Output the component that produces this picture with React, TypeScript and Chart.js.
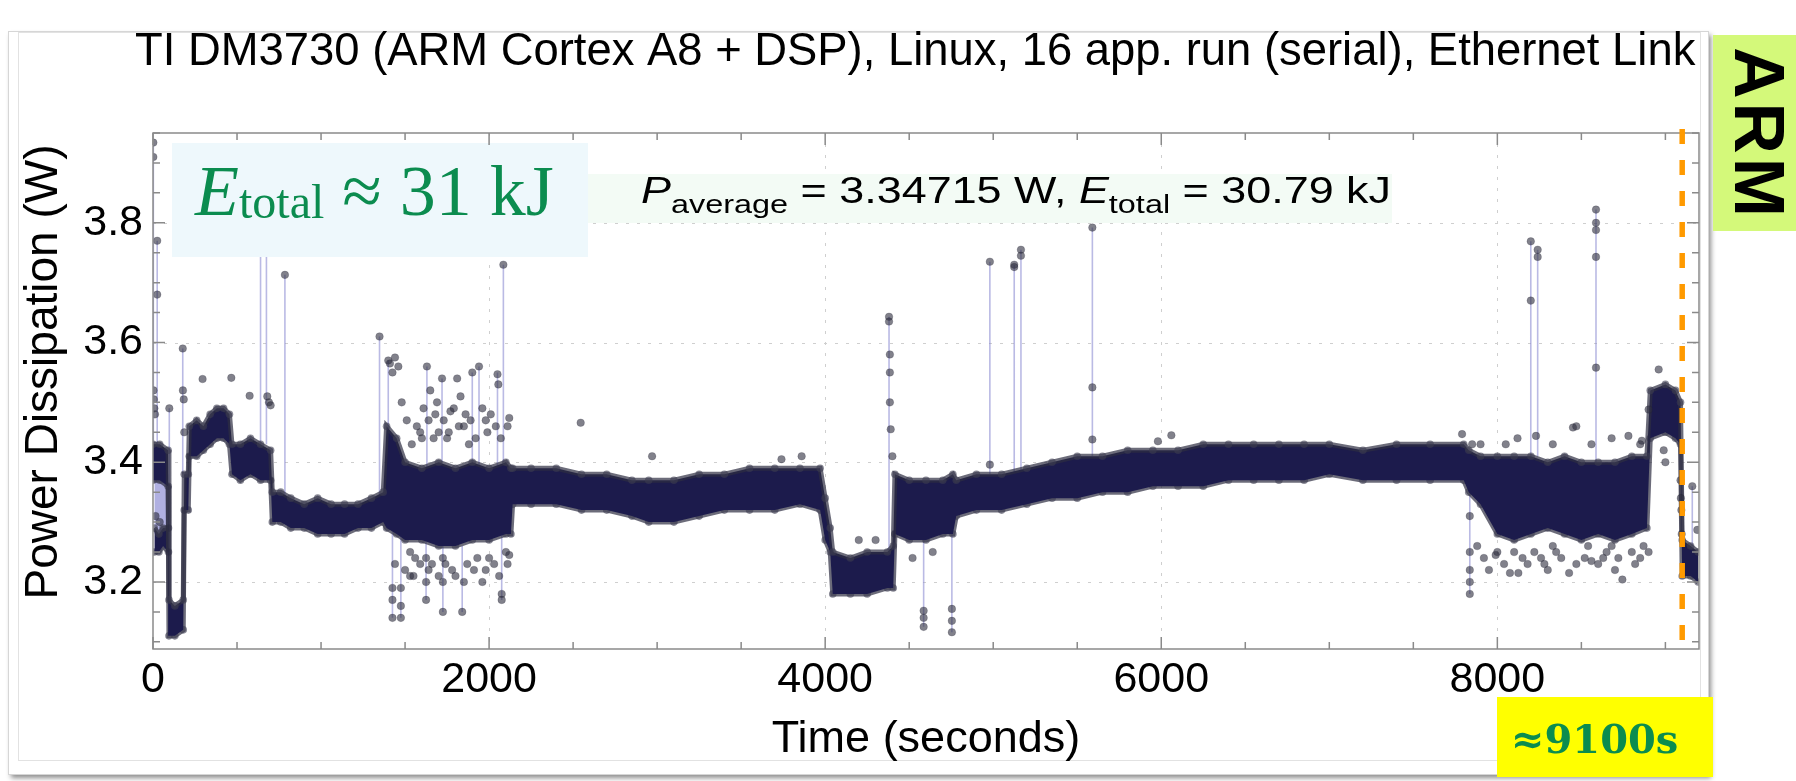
import React, { useEffect, useRef } from "react";
import { Chart, registerables } from "chart.js";

Chart.register(...registerables);

const WIDTH = 1796;
const HEIGHT = 781;

const TITLE = "TI DM3730 (ARM Cortex A8 + DSP), Linux, 16 app. run (serial), Ethernet Link";
const X_TITLE = "Time (seconds)";
const Y_TITLE = "Power Dissipation (W)";
const PLATFORM = "ARM";

const X_RANGE = [0, 9200];
const Y_RANGE = [3.088, 3.95];
const X_TICKS = [0, 2000, 4000, 6000, 8000];
const Y_TICKS = [3.2, 3.4, 3.6, 3.8];
const X_MINOR = 500;
const Y_MINOR = 0.05;
const RUN_END = 9100; // seconds

const P_AVERAGE = "3.34715";
const E_TOTAL = "30.79";
const E_ROUNDED = "31";

// Envelope of the dense power trace: time (s), lower and upper edge (W)
const BAND_T = [
  0, 40, 90, 95, 130, 180, 186, 210, 216, 260, 300, 340, 380, 420, 455, 470, 520, 580, 640, 700,
  710, 760, 820, 900, 980, 1060, 1140, 1220, 1300, 1370, 1390, 1450, 1500, 1600, 1700, 1800, 1900,
  2000, 2100, 2130, 2140, 2250, 2400, 2550, 2700, 2850, 2950, 3100, 3250, 3400, 3550, 3700, 3850,
  3970, 4000, 4030, 4045, 4150, 4250, 4370, 4405, 4415, 4500, 4600, 4700, 4760, 4780, 4900, 5050,
  5200, 5350, 5500, 5650, 5800, 5950, 6100, 6250, 6400, 6550, 6700, 6850, 7000, 7200, 7400, 7600,
  7800, 7830, 7900, 8000, 8100, 8200, 8300, 8400, 8500, 8600, 8700, 8800, 8890, 8910, 9000, 9060,
  9090, 9100, 9150, 9195,
];
const BAND_LO = [
  3.37, 3.37, 3.36, 3.11, 3.11, 3.12, 3.32, 3.32, 3.41, 3.41, 3.42, 3.43, 3.44, 3.44, 3.43, 3.38, 3.37, 3.38, 3.37, 3.37,
  3.30, 3.30, 3.29, 3.29, 3.28, 3.28, 3.28, 3.29, 3.29, 3.30, 3.29, 3.28, 3.27, 3.27, 3.26, 3.26, 3.27,
  3.27, 3.28, 3.28, 3.33, 3.33, 3.33, 3.32, 3.32, 3.31, 3.30, 3.30, 3.31, 3.32, 3.32, 3.32, 3.33,
  3.32, 3.27, 3.25, 3.18, 3.18, 3.18, 3.19, 3.19, 3.28, 3.27, 3.27, 3.28, 3.28, 3.31, 3.32, 3.32,
  3.33, 3.34, 3.34, 3.35, 3.35, 3.36, 3.36, 3.36, 3.37, 3.37, 3.37, 3.37, 3.38, 3.37, 3.37, 3.37,
  3.37, 3.35, 3.33, 3.28, 3.27, 3.28, 3.29, 3.28, 3.27, 3.28, 3.27, 3.28, 3.29, 3.44, 3.45, 3.44,
  3.43, 3.21, 3.21, 3.20,
];
const BAND_HI = [
  3.43, 3.43, 3.42, 3.17, 3.16, 3.17, 3.38, 3.38, 3.46, 3.47, 3.46, 3.48, 3.49, 3.49, 3.48, 3.43, 3.43, 3.44, 3.43, 3.42,
  3.35, 3.35, 3.34, 3.33, 3.34, 3.33, 3.33, 3.33, 3.34, 3.35, 3.46, 3.44, 3.40, 3.39, 3.40, 3.39, 3.40,
  3.39, 3.40, 3.39, 3.39, 3.39, 3.39, 3.38, 3.38, 3.37, 3.37, 3.37, 3.38, 3.38, 3.39, 3.39, 3.39,
  3.39, 3.34, 3.29, 3.25, 3.24, 3.25, 3.25, 3.26, 3.38, 3.37, 3.37, 3.37, 3.38, 3.37, 3.38, 3.38,
  3.39, 3.40, 3.41, 3.41, 3.42, 3.42, 3.42, 3.43, 3.43, 3.43, 3.43, 3.43, 3.43, 3.42, 3.43, 3.43,
  3.43, 3.42, 3.41, 3.41, 3.41, 3.41, 3.40, 3.41, 3.40, 3.40, 3.40, 3.41, 3.41, 3.52, 3.53, 3.52,
  3.50, 3.27, 3.26, 3.25,
];

// Short low-power cluster right after start
const LOW_T = [8, 35, 60, 92];
const LOW_LO = [3.25, 3.25, 3.26, 3.25];
const LOW_HI = [3.29, 3.28, 3.29, 3.29];

// Rapid switching between the two start levels (joined samples)
const SWITCH_T = [8, 92];
const SWITCH_LO = [3.28, 3.28];
const SWITCH_HI = [3.38, 3.38];

// Isolated excursions: time (s), level it leaves from, level reached (W)
const SPIKE_T = [
  2, 25, 97, 177, 640, 675, 785, 1348, 1400, 1425, 1475, 1625, 1630, 1720, 1725, 1840, 1900, 1940,
  2050, 2075, 2085, 4380, 4586, 4754, 4980, 5125, 5165, 5590, 7836, 8199, 8240, 8587, 9160,
];
const SPIKE_FROM = [
  3.43, 3.42, 3.17, 3.38, 3.43, 3.43, 3.34, 3.34, 3.45, 3.29, 3.28, 3.27, 3.39, 3.40, 3.26, 3.26, 3.40, 3.39,
  3.39, 3.28, 3.40, 3.25, 3.27, 3.28, 3.38, 3.38, 3.38, 3.41, 3.37, 3.41, 3.41, 3.40, 3.26,
];
const SPIKE_TO = [
  3.934, 3.77, 3.49, 3.59, 3.87, 3.85, 3.713, 3.61, 3.57, 3.14, 3.14, 3.17, 3.56, 3.54, 3.15, 3.15, 3.55, 3.56,
  3.55, 3.17, 3.73, 3.643, 3.125, 3.116, 3.735, 3.73, 3.755, 3.792, 3.18, 3.769, 3.755, 3.822, 3.36,
];

// Individual samples standing out of the dense trace: time (s), power (W)
const DOT_T = [
  2, 2, 3, 5, 8, 12, 25, 25, 97, 15, 40, 177, 178, 183, 186, 295, 466, 575, 680, 690, 700, 785, 1348,
  1400, 1410, 1425, 1440, 1460, 1480, 1425, 1425, 1425, 1475, 1475, 1475, 1530, 1530, 1570, 1625, 1625,
  1625, 1630, 1650, 1680, 1720, 1725, 1725, 1725, 1770, 1810, 1830, 1840, 1900, 1940, 1960, 2050, 2055,
  2075, 2075, 2085, 2120, 2120, 1600, 1700, 1750, 1850, 1880, 1990, 2000, 1560, 1660, 1780, 1870, 1930,
  2030, 2100,
  1510, 1540, 1590, 1610, 1640, 1670, 1690, 1730, 1760, 1790, 1820, 1860, 1890, 1920, 1960, 1980, 2010,
  2040, 2070, 2110, 1440, 1500, 1550, 1590, 1640, 1700, 1740, 1800, 1850, 1910, 1980, 2060, 2110,
  2545, 2970, 3740, 3860, 4200, 4300, 4380, 4380, 4385, 4385, 4385, 4390, 4400, 4586, 4586,
  4586, 4754, 4754, 4754, 4640, 4520, 4980, 4980, 5125, 5125, 5165, 5165, 5590, 5590, 5590, 5980, 6060,
  7790, 7836, 7836, 7836, 7836, 7836, 7850, 7950, 7990, 8000, 8075, 8125, 8180, 8199, 8199, 8230, 8240,
  8240, 8260, 8300, 8350, 8427, 8450, 8470, 8520, 8560, 8587, 8587, 8587, 8587, 8587, 8600, 8650, 8700,
  8744, 8780, 8820, 8850, 8860, 8900,
  7880, 7920, 8040, 8100, 8150, 8220, 8280, 8330, 8380, 8470, 8540, 8630, 8680, 8720, 8800, 8870,
  7900, 8050, 8120, 8330, 8560, 8680, 8850,
  8900, 8960, 8990, 9000, 9090, 9092, 9095, 9097, 9160, 9190,
];
const DOT_V = [
  3.934, 3.91, 3.52, 3.505, 3.49, 3.48, 3.77, 3.68, 3.49, 3.31, 3.30, 3.59, 3.52, 3.505, 3.45, 3.539, 3.541, 3.511, 3.51, 3.50, 3.495, 3.713, 3.61,
  3.57, 3.565, 3.55, 3.575, 3.56, 3.50, 3.19, 3.17, 3.14, 3.19, 3.16, 3.14, 3.25, 3.21, 3.46, 3.24, 3.20,
  3.17, 3.56, 3.52, 3.48, 3.54, 3.24, 3.20, 3.15, 3.485, 3.54, 3.51, 3.15, 3.55, 3.56, 3.20, 3.547, 3.53,
  3.18, 3.17, 3.73, 3.474, 3.245, 3.44, 3.45, 3.44, 3.46, 3.43, 3.45, 3.24, 3.24, 3.23, 3.22, 3.23, 3.24,
  3.23, 3.25,
  3.47, 3.43, 3.45, 3.49, 3.47, 3.44, 3.50, 3.47, 3.45, 3.49, 3.46, 3.48, 3.47, 3.44, 3.49, 3.47, 3.48,
  3.46, 3.44, 3.46, 3.23, 3.22, 3.21, 3.23, 3.22, 3.21, 3.23, 3.21, 3.20, 3.22, 3.22, 3.21, 3.23,
  3.466, 3.41, 3.405, 3.41, 3.27, 3.27, 3.643, 3.635, 3.58, 3.55, 3.50, 3.455, 3.41, 3.152, 3.14,
  3.125, 3.155, 3.135, 3.116, 3.25, 3.24, 3.735, 3.396, 3.73, 3.726, 3.755, 3.745, 3.792, 3.525, 3.438, 3.435, 3.445,
  3.447, 3.31, 3.25, 3.22, 3.20, 3.18, 3.43, 3.22, 3.245, 3.25, 3.215, 3.215, 3.23, 3.769, 3.67, 3.444, 3.755,
  3.743, 3.24, 3.22, 3.25, 3.215, 3.458, 3.46, 3.24, 3.235, 3.822, 3.80, 3.788, 3.743, 3.558, 3.23, 3.25, 3.22,
  3.204, 3.444, 3.23, 3.24, 3.436, 3.25,
  3.26, 3.24, 3.23, 3.25, 3.24, 3.25, 3.23, 3.26, 3.24, 3.23, 3.26, 3.24, 3.26, 3.24, 3.25, 3.26,
  3.43, 3.43, 3.44, 3.43, 3.43, 3.44, 3.43,
  3.488, 3.555, 3.42, 3.40, 3.37, 3.34, 3.32, 3.28, 3.36, 3.287,
];

const NAVY = "#1c1b4c";
const EDGE_LINE = "rgba(45,45,66,0.7)";
const EDGE_DOT = "rgba(60,60,80,0.6)";
const JOIN = "rgba(140,140,210,0.6)";
const GREEN = "#0b8c4f";
const SANS = '"Liberation Sans", Arial, Helvetica, sans-serif';
const SERIF = '"Liberation Serif", "Times New Roman", serif';

const pts = (xs: number[], ys: number[]) => xs.map((x, i) => ({ x, y: ys[i] }));

const spikeSegments = () => {
  const out: { x: number; y: number | null }[] = [];
  SPIKE_T.forEach((t, i) => {
    out.push({ x: t, y: SPIKE_FROM[i] }, { x: t, y: SPIKE_TO[i] }, { x: t, y: null });
  });
  return out;
};

const edgeDataset = (label: string, data: any[], fill: any, color: string, order: number) => ({
  label,
  data,
  order,
  fill,
  backgroundColor: color,
  borderColor: EDGE_LINE,
  borderWidth: 5,
  pointRadius: 3.8,
  pointBackgroundColor: EDGE_DOT,
  pointBorderWidth: 0,
  tension: 0,
});

type Part = { text: string; font: string; dy?: number };

const partsWidth = (ctx: CanvasRenderingContext2D, parts: Part[]) =>
  parts.reduce((w, p) => {
    ctx.font = p.font;
    return w + ctx.measureText(p.text).width;
  }, 0);

const drawParts = (ctx: CanvasRenderingContext2D, parts: Part[], x: number, y: number) => {
  let cx = x;
  parts.forEach((p) => {
    ctx.font = p.font;
    ctx.fillText(p.text, cx, y + (p.dy || 0));
    cx += ctx.measureText(p.text).width;
  });
};

const decorations = {
  id: "decorations",
  beforeDraw(chart: any) {
    const ctx: CanvasRenderingContext2D = chart.ctx;
    ctx.save();
    ctx.fillStyle = "#ffffff";
    ctx.fillRect(0, 0, WIDTH, HEIGHT);
    // slide panel with soft shadow
    ctx.shadowColor = "rgba(0,0,0,0.45)";
    ctx.shadowBlur = 5;
    ctx.shadowOffsetX = 3;
    ctx.shadowOffsetY = 4;
    ctx.fillStyle = "#ffffff";
    ctx.fillRect(8, 31, 1700, 743);
    ctx.shadowColor = "transparent";
    ctx.strokeStyle = "#d6d6d6";
    ctx.lineWidth = 1;
    ctx.strokeRect(8.5, 31.5, 1700, 743);
    ctx.strokeStyle = "#e2e2e2";
    ctx.strokeRect(18.5, 32.5, 1682, 728);
    ctx.restore();
  },
  beforeDatasetsDraw(chart: any) {
    const { ctx, chartArea: a, scales } = chart;
    ctx.save();
    ctx.strokeStyle = "#cfcfcf";
    ctx.lineWidth = 1;
    ctx.setLineDash([3, 8]);
    X_TICKS.forEach((v) => {
      if (v === X_RANGE[0]) return;
      const x = Math.round(scales.x.getPixelForValue(v)) + 0.5;
      ctx.beginPath();
      ctx.moveTo(x, a.top);
      ctx.lineTo(x, a.bottom);
      ctx.stroke();
    });
    Y_TICKS.forEach((v) => {
      const y = Math.round(scales.y.getPixelForValue(v)) + 0.5;
      ctx.beginPath();
      ctx.moveTo(a.left, y);
      ctx.lineTo(a.right, y);
      ctx.stroke();
    });
    ctx.restore();
  },
  afterDatasetsDraw(chart: any) {
    const { ctx, chartArea: a, scales } = chart;
    const xs = scales.x;
    const ys = scales.y;
    ctx.save();

    // annotation boxes inside the plot
    ctx.fillStyle = "#eef8fc";
    ctx.fillRect(172, 143, 416, 114);
    ctx.fillStyle = "#f3fbf5";
    ctx.fillRect(588, 174, 804, 49);

    ctx.fillStyle = GREEN;
    ctx.textBaseline = "alphabetic";
    ctx.textAlign = "left";
    drawParts(
      ctx,
      [
        { text: "E", font: `italic 72px ${SERIF}` },
        { text: "total", font: `48px ${SERIF}`, dy: 3 },
        { text: ` \u2248 ${E_ROUNDED} kJ`, font: `72px ${SERIF}` },
      ],
      195,
      215,
    );

    // average-power label, set wide within its strip
    const avgParts: Part[] = [
      { text: "P", font: `italic 36px ${SANS}` },
      { text: "average", font: `26px ${SANS}`, dy: 10 },
      { text: ` = ${P_AVERAGE} W, `, font: `36px ${SANS}` },
      { text: "E", font: `italic 36px ${SANS}` },
      { text: "total", font: `26px ${SANS}`, dy: 10 },
      { text: ` = ${E_TOTAL} kJ`, font: `36px ${SANS}` },
    ];
    ctx.fillStyle = "#000";
    ctx.save();
    ctx.translate(641, 203);
    ctx.scale(750 / partsWidth(ctx, avgParts), 1);
    drawParts(ctx, avgParts, 0, 0);
    ctx.restore();

    // frame and inward ticks on all sides
    ctx.strokeStyle = "#8a8a8a";
    ctx.lineWidth = 1.5;
    ctx.strokeRect(a.left, a.top, a.right - a.left, a.bottom - a.top);
    ctx.beginPath();
    for (let v = X_RANGE[0]; v <= X_RANGE[1]; v += X_MINOR) {
      const x = xs.getPixelForValue(v);
      const len = v % 2000 === 0 ? 12 : 7;
      ctx.moveTo(x, a.bottom);
      ctx.lineTo(x, a.bottom - len);
      ctx.moveTo(x, a.top);
      ctx.lineTo(x, a.top + len);
    }
    for (let k = Math.ceil(Y_RANGE[0] / Y_MINOR - 1e-6); k * Y_MINOR <= Y_RANGE[1] + 1e-6; k++) {
      const v = k * Y_MINOR;
      const y = ys.getPixelForValue(v);
      const major = Y_TICKS.some((t) => Math.abs(t - v) < 1e-6);
      const len = major ? 12 : 7;
      ctx.moveTo(a.left, y);
      ctx.lineTo(a.left + len, y);
      ctx.moveTo(a.right, y);
      ctx.lineTo(a.right - len, y);
    }
    ctx.stroke();

    // end-of-run marker
    const mx = xs.getPixelForValue(RUN_END);
    ctx.strokeStyle = "#ff9a00";
    ctx.lineWidth = 5.5;
    ctx.setLineDash([15, 16]);
    ctx.beginPath();
    ctx.moveTo(mx, a.top - 4);
    ctx.lineTo(mx, a.bottom);
    ctx.stroke();
    ctx.setLineDash([]);

    // tick labels
    ctx.fillStyle = "#000";
    ctx.font = `43px ${SANS}`;
    ctx.textAlign = "center";
    ctx.textBaseline = "alphabetic";
    X_TICKS.forEach((v) => ctx.fillText(String(v), xs.getPixelForValue(v), 692));
    ctx.textAlign = "right";
    ctx.textBaseline = "middle";
    Y_TICKS.forEach((v) => ctx.fillText(v.toFixed(1), 143, ys.getPixelForValue(v)));

    // axis titles
    ctx.font = `45px ${SANS}`;
    ctx.textAlign = "center";
    ctx.textBaseline = "alphabetic";
    ctx.fillText(X_TITLE, (a.left + a.right) / 2, 752);
    ctx.save();
    ctx.font = `46px ${SANS}`;
    ctx.translate(57, 372);
    ctx.rotate(-Math.PI / 2);
    ctx.fillText(Y_TITLE, 0, 0);
    ctx.restore();

    // plot title
    ctx.textAlign = "left";
    ctx.font = `45.4px ${SANS}`;
    ctx.fillText(TITLE, 135, 65);

    // side tags
    ctx.fillStyle = "#d4f97a";
    ctx.fillRect(1713, 35, 83, 196);
    ctx.save();
    ctx.translate(1755, 132);
    ctx.rotate(Math.PI / 2);
    ctx.fillStyle = "#000";
    ctx.font = `bold 71px ${SANS}`;
    (ctx as any).letterSpacing = "4px";
    ctx.textAlign = "center";
    ctx.textBaseline = "middle";
    ctx.fillText(PLATFORM, 2, 0);
    ctx.restore();

    ctx.fillStyle = "#ffff00";
    ctx.fillRect(1497, 697, 216, 80);
    ctx.fillStyle = GREEN;
    ctx.font = `bold 40px "DejaVu Serif", serif`;
    ctx.textAlign = "left";
    ctx.textBaseline = "alphabetic";
    ctx.fillText(`\u2248${RUN_END}s`, 1511, 753);

    ctx.restore();
  },
};

export default function App() {
  const ref = useRef<HTMLCanvasElement>(null);

  useEffect(() => {
    if (!ref.current) return;
    const chart = new Chart(ref.current, {
      type: "line",
      data: {
        datasets: [
          {
            label: "samples",
            data: pts(DOT_T, DOT_V),
            order: 0,
            showLine: false,
            pointRadius: 3.8,
            pointBackgroundColor: "rgba(45,45,62,0.6)",
            pointBorderColor: "rgba(30,30,45,0.4)",
            pointBorderWidth: 0.5,
          },
          edgeDataset("trace high", pts(BAND_T, BAND_HI), "+1", NAVY, 1),
          edgeDataset("trace low", pts(BAND_T, BAND_LO), false, NAVY, 2),
          edgeDataset("start high", pts(LOW_T, LOW_HI), "+1", NAVY, 3),
          edgeDataset("start low", pts(LOW_T, LOW_LO), false, NAVY, 4),
          {
            label: "switch high",
            data: pts(SWITCH_T, SWITCH_HI),
            order: 5,
            fill: "+1",
            backgroundColor: "rgba(150,150,215,0.75)",
            borderWidth: 0,
            pointRadius: 0,
          },
          {
            label: "switch low",
            data: pts(SWITCH_T, SWITCH_LO),
            order: 6,
            fill: false,
            borderWidth: 0,
            pointRadius: 0,
          },
          {
            label: "joins",
            data: spikeSegments(),
            order: 7,
            spanGaps: false,
            borderColor: JOIN,
            borderWidth: 1.6,
            pointRadius: 0,
            fill: false,
          },
        ] as any,
      },
      options: {
        animation: false,
        responsive: false,
        devicePixelRatio: 1,
        layout: { padding: { left: 153, top: 133, right: 97, bottom: 132 } },
        scales: {
          x: { type: "linear", min: X_RANGE[0], max: X_RANGE[1], display: false },
          y: { type: "linear", min: Y_RANGE[0], max: Y_RANGE[1], display: false },
        },
        plugins: {
          legend: { display: false },
          tooltip: { enabled: false },
          title: { display: false },
        },
        elements: { line: { tension: 0 } },
      } as any,
      plugins: [decorations as any],
    });
    return () => chart.destroy();
  }, []);

  return (
    <div style={{ position: "absolute", left: 0, top: 0, width: WIDTH, height: HEIGHT, background: "#fff" }}>
      <canvas ref={ref} width={WIDTH} height={HEIGHT} style={{ display: "block", width: WIDTH, height: HEIGHT }} />
    </div>
  );
}
